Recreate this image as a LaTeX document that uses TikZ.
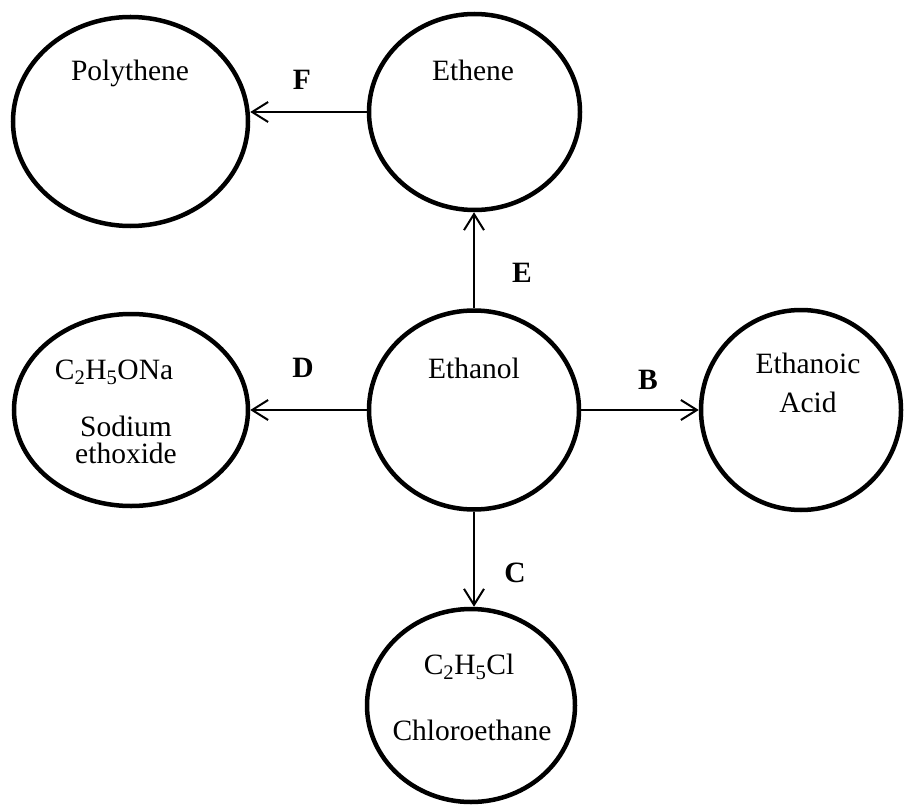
\documentclass[tikz,border=0pt]{standalone}
\usepackage{fontspec}
\setmainfont{Liberation Serif}
\usepackage{tikz}
\usetikzlibrary{shapes.geometric, arrows.meta}
\tikzstyle{arrow} = [line width=2pt,-{Straight Barb[length=16pt,width=20pt,line width=2pt]}]
\tikzstyle{blob} = [draw, ellipse, line width=4.5pt, inner sep=0pt]

\begin{document}
\begin{tikzpicture}[x=1pt,y=-1pt,font=\fontsize{29.5}{35}\selectfont]
            \useasboundingbox (0,0) rectangle (904,805);
            \node[blob, minimum width=235pt, minimum height=209pt] (poly) at (130.5,121.5) {};
            \node[blob, minimum width=211pt, minimum height=196pt] (ethene) at (474.5,112) {};
            \node[blob, minimum width=210pt, minimum height=199pt] (ethanol) at (474,410) {};
            \node[blob, minimum width=234pt, minimum height=192pt] (ethoxide) at (131,410) {};
            \node[blob, minimum width=200pt, minimum height=200pt] (acid) at (801,410) {};
            \node[blob, minimum width=208pt, minimum height=193pt] (chloro) at (471,705.5) {};
            \node (polytxt) at (130,73) {Polythene};
            \node (ethenetxt) at (473,70) {Ethene};
            \node (ethanoltxt) at (474,368) {Ethanol};
            \node (naform) at (114,372) {C\textsubscript{2}H\textsubscript{5}ONa};
            \node[align=center, font=\fontsize{29.5}{27}\selectfont] (naname) at (126,440) {Sodium\\ethoxide};
            \node[align=center, font=\fontsize{29.5}{39}\selectfont] (acidtxt) at (808,383) {Ethanoic\\Acid};
            \node (clform) at (469,667) {C\textsubscript{2}H\textsubscript{5}Cl};
            \node (clname) at (472,730) {Chloroethane};
            \node (lblF) at (302,80) {\textbf{F}};
            \node (lblE) at (522,273) {\textbf{E}};
            \node (lblD) at (303,368) {\textbf{D}};
            \node (lblB) at (648,380) {\textbf{B}};
            \node (lblC) at (515,573) {\textbf{C}};
            \draw[arrow] (ethene.west) -- (ethene.west -| poly.east);
            \draw[arrow] (ethanol.north) -- (ethanol.north |- ethene.south);
            \draw[arrow] (ethanol.west) -- (ethanol.west -| ethoxide.east);
            \draw[arrow] (ethanol.east) -- (ethanol.east -| acid.west);
            \draw[arrow] (ethanol.south) -- (ethanol.south |- chloro.north);
        \end{tikzpicture}
\end{document}
